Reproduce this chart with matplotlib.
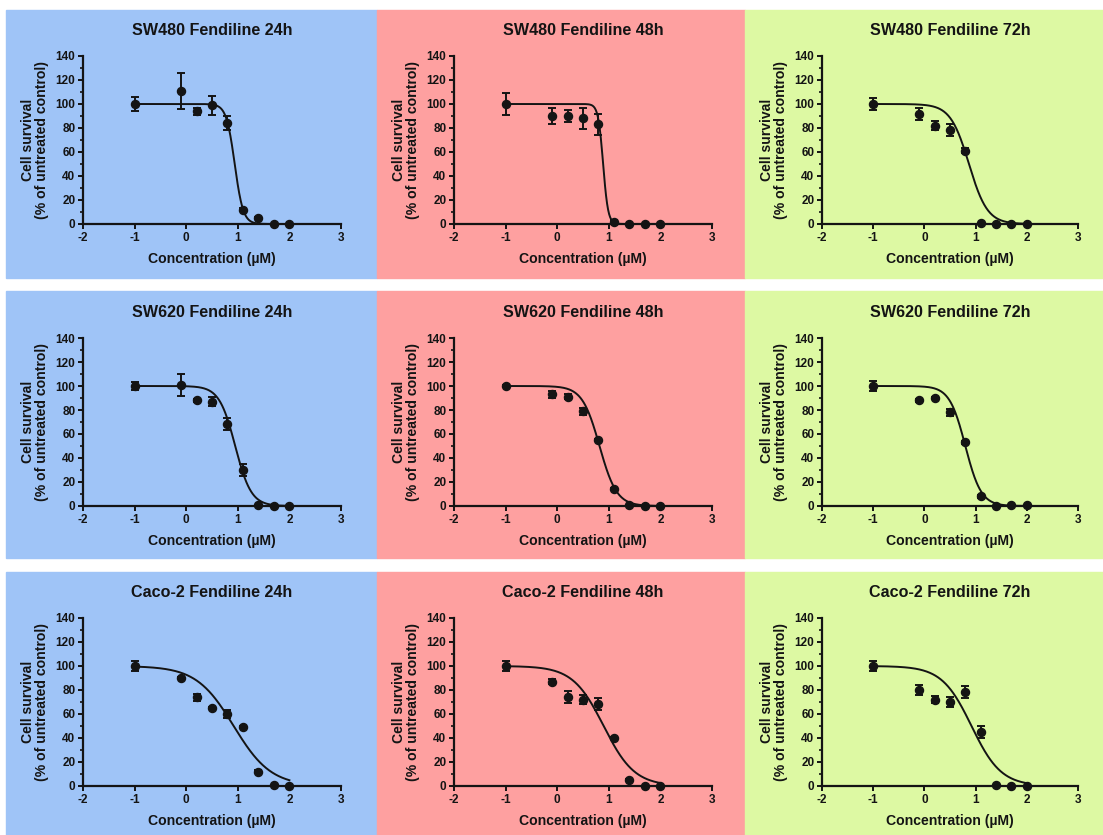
import numpy as np
import matplotlib
matplotlib.use("Agg")
import matplotlib.pyplot as plt
from matplotlib.patches import Rectangle
from matplotlib.ticker import MultipleLocator

plt.rcParams["font.family"] = ["Liberation Sans", "DejaVu Sans"]
plt.rcParams["font.weight"] = "bold"
plt.rcParams["axes.unicode_minus"] = False

# log10 of concentration (uM)
log_conc = [-1.0, -0.1, 0.2, 0.5, 0.8, 1.1, 1.4, 1.7, 2.0]

titles = [
    "SW480 Fendiline 24h", "SW480 Fendiline 48h", "SW480 Fendiline 72h",
    "SW620 Fendiline 24h", "SW620 Fendiline 48h", "SW620 Fendiline 72h",
    "Caco-2 Fendiline 24h", "Caco-2 Fendiline 48h", "Caco-2 Fendiline 72h",
]

sw480_24_mean = [100, 111, 94, 99, 84, 12, 5, 0, 0]
sw480_24_sem = [6, 15, 3, 8, 6, 1, 1, 0, 0]
sw480_48_mean = [100, 90, 90, 88, 83, 2, 0, 0, 0]
sw480_48_sem = [9, 7, 5, 9, 9, 1, 0, 0, 0]
sw480_72_mean = [100, 92, 82, 78, 61, 1, 0, 0, 0]
sw480_72_sem = [5, 5, 4, 5, 2, 0, 0, 0, 0]

sw620_24_mean = [100, 101, 88, 87, 68, 30, 1, 0, 0]
sw620_24_sem = [3, 9, 1, 4, 5, 5, 0, 0, 0]
sw620_48_mean = [100, 93, 91, 79, 55, 14, 0.5, 0, 0]
sw620_48_sem = [1, 3, 2, 3, 1, 1, 0, 0, 0]
sw620_72_mean = [100, 88, 90, 78, 53, 8, 0, 1, 1]
sw620_72_sem = [4, 1, 1, 3, 1, 1, 0, 0, 0]

caco2_24_mean = [100, 90, 74, 65, 60, 49, 12, 1, 0]
caco2_24_sem = [4, 1, 3, 1, 3, 1, 1, 0, 0]
caco2_48_mean = [100, 87, 74, 72, 68, 40, 5, 0, 0]
caco2_48_sem = [4, 2, 5, 4, 5, 1, 1, 0, 0]
caco2_72_mean = [100, 80, 72, 70, 78, 45, 1, 0, 0]
caco2_72_sem = [4, 4, 3, 4, 5, 5, 0, 0, 0]

means = [sw480_24_mean, sw480_48_mean, sw480_72_mean,
         sw620_24_mean, sw620_48_mean, sw620_72_mean,
         caco2_24_mean, caco2_48_mean, caco2_72_mean]
sems = [sw480_24_sem, sw480_48_sem, sw480_72_sem,
        sw620_24_sem, sw620_48_sem, sw620_72_sem,
        caco2_24_sem, caco2_48_sem, caco2_72_sem]

# fitted dose-response parameters (top 100, bottom 0)
log_ic50 = [0.94, 0.89, 0.87, 0.95, 0.82, 0.80, 0.92, 0.90, 0.92]
hill = [5.3, 9.0, 2.4, 2.8, 2.6, 2.8, 1.2, 1.45, 1.5]

col_colors = ["#9fc4f7", "#fea0a0", "#ddf9a3"]
ink = "#141414"

W, H = 1103, 835
fig = plt.figure(figsize=(W / 100, H / 100), dpi=100)

# background panels in pixels: (x0, x1), (y0, y1)
col_bg = [(6, 377), (377, 745), (745, 1103)]
row_bg = [(10, 278), (291, 558), (572, 835)]
# axes boxes in pixels
col_ax = [(83, 341), (454, 712), (822, 1078)]
row_ax = [(56, 224), (338, 506), (618, 786)]

for r in range(3):
    for c in range(3):
        x0, x1 = col_bg[c]
        y0, y1 = row_bg[r]
        fig.patches.append(Rectangle((x0 / W, 1 - y1 / H), (x1 - x0) / W, (y1 - y0) / H,
                                     transform=fig.transFigure, color=col_colors[c],
                                     zorder=-5))

xfit = np.linspace(-1, 2, 300)

for i in range(9):
    r, c = divmod(i, 3)
    ax0, ax1 = col_ax[c]
    ay0, ay1 = row_ax[r]
    ax = fig.add_axes([ax0 / W, 1 - ay1 / H, (ax1 - ax0) / W, (ay1 - ay0) / H])
    ax.set_zorder(2)
    ax.patch.set_alpha(0)

    yfit = 100 / (1 + 10 ** ((xfit - log_ic50[i]) * hill[i]))
    ax.plot(xfit, yfit, color=ink, lw=1.4, clip_on=False, zorder=3)
    ax.errorbar(log_conc, means[i], yerr=sems[i], fmt="o", color=ink,
                ms=5.8, elinewidth=1.4, capsize=2.8, capthick=1.4, clip_on=False, zorder=4)

    ax.set_xlim(-2, 3)
    ax.set_ylim(0, 140)
    ax.xaxis.set_major_locator(MultipleLocator(1))
    ax.yaxis.set_major_locator(MultipleLocator(20))
    ax.yaxis.set_minor_locator(MultipleLocator(10))
    for s in ["top", "right"]:
        ax.spines[s].set_visible(False)
    for s in ["left", "bottom"]:
        ax.spines[s].set_linewidth(1.6)
        ax.spines[s].set_color(ink)
    ax.tick_params(axis="both", which="major", length=3.5, width=1.4, labelsize=8.5,
                   pad=2, colors=ink)
    ax.tick_params(axis="y", which="minor", length=2.2, width=1.2, colors=ink)
    for lab in ax.get_xticklabels() + ax.get_yticklabels():
        lab.set_fontweight("bold")

    ax.set_title(titles[i], fontsize=11.6, fontweight="bold", pad=15, color=ink)
    ax.set_xlabel("Concentration (\u00b5M)", fontsize=10.1, fontweight="bold",
                  labelpad=6, color=ink)
    ax.set_ylabel("Cell survival\n(% of untreated control)", fontsize=10.1,
                  fontweight="bold", labelpad=5, color=ink, linespacing=1.0)

fig.savefig("out.png", dpi=100)
